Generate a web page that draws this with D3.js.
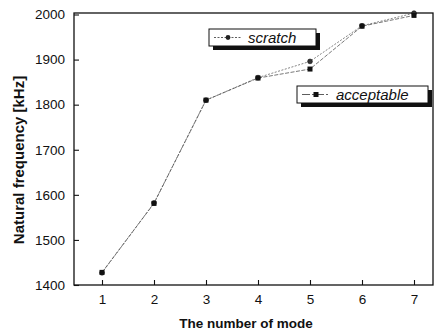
<!DOCTYPE html>
<html><head><meta charset="utf-8">
<script src="https://cdn.jsdelivr.net/npm/d3@7"></script>
<style>body{margin:0;background:#fff}svg{display:block}text{font-family:"Liberation Sans",Arial,sans-serif}</style>
</head><body>
<svg id="c" width="438" height="332"></svg>
<script>
const modes = [1,2,3,4,5,6,7];
const scratch = [1427,1582,1810,1860,1896,1975,2003];
const acceptable = [1428,1581,1810,1859,1879,1974,1998];
const yTicks = [1400,1500,1600,1700,1800,1900,2000];
const xTicks = [1,2,3,4,5,6,7];

const svg = d3.select("#c");
const L = 74, R = 433, T = 13, B = 285;
const x = d3.scaleLinear().domain([1,7]).range([102,414]);
const y = d3.scaleLinear().domain([1400,2000]).range([B,14.5]);

svg.append("rect").attr("x",L).attr("y",T).attr("width",R-L).attr("height",B-T)
  .attr("fill","none").attr("stroke","#111").attr("stroke-width",1.3);

const yAxis = svg.append("g").attr("transform",`translate(${L},0)`)
  .call(d3.axisLeft(y).tickValues(yTicks).tickSize(-5).tickPadding(9).tickFormat(d3.format("d")));
const xAxis = svg.append("g").attr("transform",`translate(0,${B})`)
  .call(d3.axisBottom(x).tickValues(xTicks).tickSize(-5).tickPadding(9).tickFormat(d3.format("d")));
[yAxis,xAxis].forEach(a=>{
  a.select(".domain").remove();
  a.selectAll("line").attr("stroke","#111").attr("stroke-width",1.1);
  a.selectAll("text").attr("font-size",13.5).attr("fill","#111")
   .style("font-family","'Liberation Sans',Arial,sans-serif");
});

const line = d3.line().x((d,i)=>x(modes[i])).y(d=>y(d));
svg.append("path").datum(scratch).attr("d",line).attr("fill","none")
  .attr("stroke","#666").attr("stroke-width",0.8).attr("stroke-dasharray","2,1.5");
svg.append("path").datum(acceptable).attr("d",line).attr("fill","none")
  .attr("stroke","#555").attr("stroke-width",0.8).attr("stroke-dasharray","4,1.5");

svg.selectAll(".sc").data(scratch).join("circle").attr("class","sc")
  .attr("cx",(d,i)=>x(modes[i])).attr("cy",d=>y(d)).attr("r",2.4)
  .attr("fill","#333").attr("stroke","#111").attr("stroke-width",0.6);
svg.selectAll(".ac").data(acceptable).join("rect").attr("class","ac")
  .attr("x",(d,i)=>x(modes[i])-2.5).attr("y",d=>y(d)-2.5).attr("width",5).attr("height",5)
  .attr("fill","#111");

function legend(x0,y0,w,h,label,kind,dash){
  const g = svg.append("g");
  g.append("rect").attr("x",x0+4).attr("y",y0+4).attr("width",w).attr("height",h).attr("fill","#111");
  g.append("rect").attr("x",x0).attr("y",y0).attr("width",w).attr("height",h)
    .attr("fill","#fff").attr("stroke","#111").attr("stroke-width",1);
  const cy = y0+h/2;
  g.append("line").attr("x1",x0+5).attr("x2",x0+33).attr("y1",cy).attr("y2",cy)
    .attr("stroke","#333").attr("stroke-width",0.8).attr("stroke-dasharray",dash);
  if(kind==="c") g.append("circle").attr("cx",x0+19).attr("cy",cy).attr("r",2.4).attr("fill","#222");
  else g.append("rect").attr("x",x0+16.5).attr("y",cy-2.5).attr("width",5).attr("height",5).attr("fill","#111");
  g.append("text").attr("x",x0+39).attr("y",cy+5).attr("font-size",15).attr("font-style","italic")
    .attr("fill","#111").text(label);
}
legend(209,29,107,17,"scratch","c","2,1.5");
legend(297,86,131,17,"acceptable","s","8,2,2,2");

svg.append("text").attr("transform","translate(24,160) rotate(-90)").attr("text-anchor","middle")
  .attr("font-size",15).attr("font-weight","bold").attr("fill","#111").text("Natural frequency [kHz]");
svg.append("text").attr("x",246).attr("y",328).attr("text-anchor","middle")
  .attr("font-size",13.5).attr("font-weight","bold").attr("fill","#111").text("The number of mode");
</script>
</body></html>
